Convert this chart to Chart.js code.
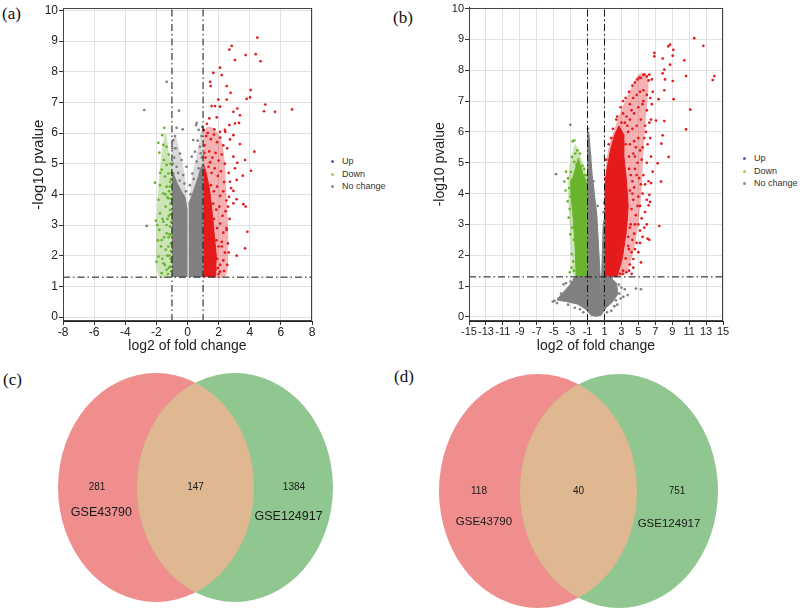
<!DOCTYPE html>
<html>
<head>
<meta charset="utf-8">
<script src="https://cdn.jsdelivr.net/npm/chart.js@4.4.1/dist/chart.umd.min.js"></script>
<style>
    body { margin: 0; background: #fff; width: 800px; height: 611px; position: relative; overflow: hidden; font-family: "Liberation Sans", Arial, sans-serif; }
    canvas { position: absolute; }
    .tag { position: absolute; font-family: "Liberation Serif", "Times New Roman", serif; font-size: 17px; line-height: 17px; color: #111; }
    .legend { position: absolute; font-size: 9px; color: #333; }
    .legend div { position: relative; height: 12.5px; line-height: 12.5px; padding-left: 11px; }
    .legend i { position: absolute; left: 0; top: 5px; width: 3px; height: 3px; border-radius: 50%; }
</style>
</head>
<body>
<div class="tag" style="left:2px;top:5px">(a)</div>
<div class="tag" style="left:393px;top:9px">(b)</div>
<div class="tag" style="left:3px;top:371px">(c)</div>
<div class="tag" style="left:394px;top:368px">(d)</div>

<canvas id="chartA" width="320" height="360" style="left:0;top:0"></canvas>
<canvas id="chartB" width="330" height="360" style="left:400px;top:0"></canvas>
<canvas id="chartC" width="400" height="246" style="left:0;top:365px"></canvas>
<canvas id="chartD" width="400" height="246" style="left:400px;top:365px"></canvas>

<div class="legend" id="legendA" style="left:331px;top:155px"></div>
<div class="legend" id="legendB" style="left:743px;top:152px"></div>

<script>
// ==================== DỮ LIỆU ====================

const seriesNames = ['Up', 'Down', 'No change'];
const fcCut = [-1, 1];
const pCut = 1.3;

const xTicksA = [-8, -6, -4, -2, 0, 2, 4, 6, 8];
const yTicksA = [0, 1, 2, 3, 4, 5, 6, 7, 8, 9, 10];
const xTicksB = [-15, -13, -11, -9, -7, -5, -3, -1, 1, 3, 5, 7, 9, 11, 13, 15];
const yTicksB = [0, 1, 2, 3, 4, 5, 6, 7, 8, 9, 10];

// (a) vùng điểm dày đặc (viền) - lõi đặc và vùng thưa
const flatCoreA1 = [[-1.0,1.32],[-0.03,1.32],[-0.03,3.5],[-0.15,3.9],[-0.4,4.1],[-0.65,4.35],[-0.85,4.6],[-1.0,4.75]];
const flatCoreA2 = [[0.07,1.32],[1.0,1.32],[1.0,5.0],[0.85,4.85],[0.65,4.5],[0.45,4.2],[0.25,3.9],[0.07,3.7]];
const flatHaloA1 = [[-1.0,4.5],[-1.0,5.6],[-0.8,5.9],[-0.5,5.4],[-0.2,4.7],[-0.03,3.6]];
const flatHaloA2 = [[0.07,3.6],[0.3,4.6],[0.6,5.3],[0.85,6.0],[1.0,6.2],[1.0,4.9]];
const upCoreA = [[1.02,1.32],[1.8,1.32],[1.85,2.0],[1.7,2.8],[1.55,3.6],[1.4,4.2],[1.2,4.7],[1.02,5.0]];
const upHaloA = [[1.02,1.32],[2.4,1.32],[2.6,2.0],[2.6,3.0],[2.5,4.0],[2.4,5.0],[2.2,5.7],[1.8,6.1],[1.3,6.2],[1.02,6.0]];
const downHaloA = [[-1.0,1.32],[-1.85,1.32],[-2.0,2.5],[-1.95,3.6],[-1.8,4.6],[-1.6,5.6],[-1.4,6.0],[-1.2,5.4],[-1.0,4.9]];

// (a) điểm rời
const upA = [
    [4.49,9.11],[2.69,8.72],[2.84,8.84],[3.74,8.54],[4.38,8.57],[4.70,8.34],[3.05,8.38],[2.09,8.13],[1.66,7.96],[1.45,7.67],
    [1.49,7.53],[2.20,7.89],[2.52,7.53],[4.06,7.40],[4.02,7.16],[3.80,7.11],[2.77,7.31],[2.52,7.09],[1.98,7.09],[1.55,6.88],
    [1.77,6.88],[2.09,6.86],[3.20,6.80],[5.00,6.93],[4.92,6.71],[5.62,6.69],[6.72,6.77],[2.95,6.69],[3.37,6.58],[1.88,6.51],
    [1.40,6.48],[2.69,6.26],[3.05,6.31],[3.31,6.33],[1.72,6.12],[2.09,6.04],[2.43,6.04],[2.95,5.93],[2.73,5.79],[3.37,5.64],
    [4.30,5.39],[2.95,5.23],[3.20,5.03],[3.70,5.12],[4.08,4.77],[3.55,4.61],[3.05,4.85],[2.73,4.41],[3.16,4.47],[2.95,4.11],
    [2.67,3.92],[3.16,3.84],[3.59,3.68],[3.74,3.60],[2.95,3.71],[3.85,2.78],[3.70,2.24],[3.16,2.00],[2.52,2.84],[2.20,2.30],
    [2.09,1.48],[1.66,1.37],[1.10,5.60],[1.20,5.90],[1.05,6.10],[1.30,6.00],[1.50,5.80],[1.70,5.95],[1.90,5.70],[2.10,5.85],
    [2.30,5.60],[1.40,5.40],[1.60,5.20],[1.80,5.35],[2.00,5.10],[2.20,5.30],[2.40,5.00],[1.15,5.20],[1.35,4.90],[1.55,4.70],
    [1.75,4.85],[1.95,4.60],[2.15,4.75],[2.35,4.40],[1.50,4.30],[1.70,4.10],[1.90,4.25],[2.10,3.95],[2.30,4.10],[2.50,3.80],
    [1.65,3.70],[1.85,3.50],[2.05,3.60],[2.25,3.30],[2.45,3.45],[1.70,3.20],[1.90,2.90],[2.10,3.05],[2.30,2.75],[2.50,2.90],
    [1.85,2.50],[2.00,2.30],[2.20,2.45],[2.40,2.10],[1.90,1.90],[2.10,1.70],[2.30,1.85],[1.80,1.55],[2.00,1.40],[2.60,2.40],
    [2.70,3.20],[2.60,3.60],[2.80,4.20],[2.65,4.70],[2.55,5.50],[2.40,6.10],[1.25,6.30],[1.08,5.35],[1.45,5.05],[1.95,1.60],
    [2.35,1.50],[2.55,1.70],[2.65,2.10]
];
const downA = [
    [-1.49,6.17],[-1.62,5.93],[-1.87,5.68],[-1.55,5.61],[-1.34,5.55],[-1.81,5.36],[-1.51,5.12],[-1.34,4.96],[-1.66,4.81],[-1.23,4.68],
    [-1.45,4.58],[-2.09,4.38],[-1.77,4.30],[-1.34,4.25],[-1.12,4.41],[-1.55,4.03],[-1.87,3.82],[-1.23,3.87],[-1.40,3.60],[-1.77,3.38],
    [-1.12,3.49],[-2.03,3.14],[-1.55,3.11],[-1.81,2.84],[-1.34,2.73],[-1.12,2.95],[-1.66,2.51],[-1.23,2.30],[-1.87,1.97],[-1.55,1.75],
    [-1.34,1.54],[-1.66,1.43],[-1.12,1.64],[-1.05,1.50],[-1.10,1.90],[-1.08,2.40],[-1.15,2.70],[-1.05,3.10],[-1.20,3.30],[-1.10,3.70],
    [-1.04,4.00],[-1.18,4.10],[-1.06,4.50],[-1.25,1.40],[-1.30,2.00],[-1.22,2.60],[-1.35,3.00],[-1.28,3.90],[-1.40,2.20],[-1.45,1.70],
    [-1.50,2.60],[-1.60,3.20],[-1.70,2.30],[-1.62,1.90],[-1.90,2.50],[-1.04,1.80],[-1.07,2.15],[-1.03,2.65],[-1.09,3.35],[-1.03,3.85],
    [-1.14,4.25],[-1.02,4.70],[-1.16,2.00],[-1.20,1.60],[-1.28,3.20],[-1.42,4.00],[-1.95,3.00],[-2.00,1.80],[-1.75,4.70],[-1.10,5.00],
    [-1.20,5.30]
];
const flatA = [
    [-2.78,6.75],[-1.34,7.67],[-2.62,2.97],[-0.55,6.73],[-0.70,6.17],[-0.31,6.12],[0.59,6.33],[0.55,6.26],[0.72,6.10],[-0.91,5.77],
    [-0.76,5.50],[-0.48,5.33],[-0.38,5.12],[0.37,5.77],[0.80,5.55],[0.48,5.39],[0.27,5.23],[0.85,5.34],[-0.06,4.90],[0.59,5.07],
    [-0.70,4.90],[-0.91,4.68],[-0.28,4.63],[0.31,4.68],[0.72,4.85],[-0.85,5.20],[-0.60,4.70],[-0.20,4.35],[-0.50,4.45],[-0.95,5.00],
    [0.15,4.30],[0.40,4.50],[0.90,5.90],[0.95,6.20],[0.20,4.00],[-0.10,4.10],[-0.80,5.90],[0.65,5.75],[0.92,5.20],[-0.97,5.50]
];

// (b) vùng điểm dày đặc (viền)
const flatCoreB = [[-1.0,6.0],[-1.0,1.32],[-2.4,1.3],[-3.2,1.0],[-4.2,0.7],[-4.6,0.55],[-3.5,0.5],[-2.2,0.42],[-1.2,0.25],[-0.6,0.06],
    [0,0.02],[0.6,0.06],[1.2,0.3],[2.0,0.5],[2.6,0.75],[2.4,1.1],[1.6,1.3],[1.0,1.32],[1.0,3.2],[0.85,3.0],[0.6,0.7],[0.4,1.8],
    [0.1,3.3],[-0.45,4.6],[-0.85,6.0]];
const downCoreB = [[-1.0,1.32],[-2.35,1.32],[-2.45,2.2],[-2.7,3.2],[-2.95,4.0],[-3.0,4.4],[-2.7,4.55],[-2.4,4.85],[-2.1,5.15],
    [-1.8,4.9],[-1.5,4.6],[-1.2,4.45],[-1.0,4.1]];
const downHaloB = [[-1.0,1.32],[-2.6,1.32],[-2.9,2.0],[-3.1,3.0],[-3.3,4.0],[-3.2,4.7],[-2.8,5.3],[-2.5,5.6],[-2.2,5.5],[-1.8,5.2],
    [-1.3,4.8],[-1.0,4.5]];
const upCoreB = [[1.02,1.32],[2.5,1.32],[3.1,1.9],[3.6,2.8],[3.8,3.6],[3.6,4.4],[3.3,5.2],[3.3,5.9],[2.7,6.2],[2.2,5.9],
    [1.7,5.4],[1.3,4.8],[1.02,4.1]];
const upHaloB = [[1.02,1.32],[2.4,1.32],[3.5,1.4],[4.3,2.0],[4.9,2.8],[5.3,3.8],[5.5,4.8],[5.7,5.8],[6.0,6.8],[6.2,7.6],[5.8,7.9],
    [5.0,7.85],[4.4,7.55],[3.6,7.1],[2.8,6.6],[2.2,6.1],[1.6,5.6],[1.2,5.0],[1.02,4.3]];

// (b) điểm rời
const upB = [
    [11.6,9.04],[12.68,8.79],[8.54,8.77],[8.74,8.83],[6.89,8.56],[6.89,8.45],[7.87,8.38],[9.13,8.66],[9.06,8.47],[8.74,8.18],
    [10.43,8.32],[13.98,7.81],[13.78,7.68],[10.63,7.81],[8.07,8.02],[7.87,7.90],[8.15,7.70],[9.06,7.65],[8.07,7.35],[7.40,7.06],
    [9.17,7.06],[11.14,6.72],[10.63,6.08],[8.07,6.35],[7.09,6.37],[7.87,5.89],[7.72,5.62],[8.58,5.19],[7.28,4.98],[6.69,4.71],
    [7.68,4.39],[6.50,4.34],[6.30,3.96],[6.38,3.73],[6.22,3.62],[7.48,2.95],[6.10,2.54],[4.41,1.88],[5.31,1.77],[3.15,1.40],
    [4.21,1.40],[2.5,6.5],[2.9,6.8],[3.2,7.0],[3.5,7.1],[3.9,7.3],[4.3,7.5],[4.6,7.6],[4.9,7.7],[5.3,7.75],
    [5.6,7.85],[6.0,7.8],[6.3,7.86],[5.12,7.76],[5.7,7.86],[6.22,7.67],[4.0,6.9],[4.4,7.1],[4.8,7.2],[5.2,7.3],
    [5.6,7.35],[6.0,7.2],[6.4,7.1],[3.6,6.5],[4.0,6.4],[4.5,6.6],[5.0,6.8],[5.5,6.9],[6.0,6.7],[6.6,6.9],
    [3.8,6.0],[4.3,6.1],[4.8,6.2],[5.3,6.4],[5.8,6.2],[6.3,6.3],[4.0,5.6],[4.5,5.7],[5.0,5.8],[5.5,5.5],
    [6.1,5.6],[3.9,5.2],[4.4,5.3],[4.9,5.0],[5.4,5.1],[6.0,5.0],[4.1,4.6],[4.6,4.8],[5.1,4.5],[5.6,4.6],
    [6.2,4.4],[4.0,4.1],[4.5,4.2],[5.0,3.9],[5.5,4.0],[4.2,3.5],[4.7,3.3],[5.2,3.6],[5.8,3.4],[4.0,2.9],
    [4.5,2.7],[5.0,3.0],[5.5,2.6],[3.8,2.3],[4.2,2.1],[4.8,2.4],[3.5,1.9],[4.0,1.7],[3.2,1.5],[3.6,1.45],
    [2.8,1.4],[5.0,2.1],[6.0,3.0],[6.3,2.5],[3.9,2.2],[4.1,3.0],[3.9,4.8],[3.5,5.6],[3.0,6.3],[2.6,6.0],
    [1.5,5.6],[1.2,5.1],[2.0,6.1],[2.4,6.4],[3.2,6.6],[3.7,6.2],[1.1,4.5],[1.8,5.8],[4.3,4.0],[4.6,5.2],
    [5.6,7.0],[5.9,6.0],[6.4,5.8],[6.5,5.2],[5.8,4.3],[6.0,3.8],[5.4,3.2],[5.7,2.9],[4.6,2.2],[5.2,2.4],
    [4.4,1.6],[3.9,1.5],[6.5,6.4],[6.7,7.3],[6.6,7.7],[4.2,6.7],[3.4,6.3],[2.9,5.9],[4.7,5.5],[5.2,5.4],
    [5.7,5.8],[4.3,4.4],[4.8,4.6],[5.3,4.3],[4.4,3.8],[4.9,3.6],[4.6,3.0],[5.2,2.8],[3.8,2.6],[4.3,2.5]
];
const downB = [
    [-3.74,4.39],[-3.54,4.71],[-2.83,5.19],[-2.56,5.03],[-2.76,5.69],[-2.56,5.73],[-3.15,4.18],[-3.35,3.75],[-3.23,3.22],[-3.03,2.68],
    [-2.87,2.04],[-2.90,1.60],[-3.10,1.45],[-2.20,5.40],[-1.90,5.30],[-1.60,4.90],[-1.30,4.60],[-3.30,4.50],[-2.95,4.70],[-3.10,3.50],
    [-2.60,1.50],[-2.70,1.80],[-2.60,2.50],[-2.80,2.90],[-3.00,3.90],[-2.45,5.30],[-2.30,4.95],[-1.15,4.60],[-1.40,4.80],[-3.60,4.10]
];
const flatB = [
    [-4.72,4.63],[-3.03,6.23],[4.72,0.92],[5.31,0.90],[2.76,0.76],[3.23,0.65],[3.74,0.71],[2.36,0.54],[2.17,0.35],[1.57,0.65],
    [-3.94,0.65],[-4.41,0.60],[-4.13,0.76],[-3.54,1.10],[-3.82,1.06],[-1.89,0.25],[-2.60,1.22],[-3.00,1.15],[2.70,1.05],[3.00,0.95],
    [1.80,0.20],[-1.50,0.15],[-4.90,0.52],[-5.10,0.50],[-4.60,0.45],[-3.30,0.40],[-2.50,0.30],[2.90,0.60],[3.40,0.90],[1.30,0.15],
    [2.50,0.40],[-0.95,6.10],[-0.90,5.70],[-0.70,5.20],[-0.30,4.40],[0.20,3.60],[0.90,3.40],[0.95,3.70],[-2.10,1.28],[1.90,1.28]
];

// Venn
const vennSets = ['GSE43790', 'GSE124917'];
const vennCountsC = [281, 147, 1384];
const vennCountsD = [118, 40, 751];

// ==================== MÀU & FONT ====================
const FONT = '"Liberation Sans", Arial, sans-serif';
const COL = { up: '#e41a1c', down: '#6ab42d', flat: '#808080' };
const HALO = { up: 'rgba(228,26,28,0.34)', down: 'rgba(106,180,45,0.35)', flat: 'rgba(128,128,128,0.3)' };
const legendDots = ['#5d6297', '#cbb94a', '#8c8c8c'];
const vennColors = ['#f08e8e', '#90c790', '#dfb892'];

const pts = arr => arr.map(([x, y]) => ({ x, y }));

// Khung viền quanh vùng vẽ
const boxPlugin = {
    id: 'box',
    afterDraw(chart) {
        const { ctx, chartArea: a } = chart;
        ctx.save();
        ctx.strokeStyle = '#444';
        ctx.lineWidth = 1;
        ctx.strokeRect(Math.round(a.left) + 0.5, Math.round(a.top) + 0.5, Math.round(a.width) - 1, Math.round(a.height) - 1);
        ctx.restore();
    }
};

// ==================== BIỂU ĐỒ VOLCANO ====================
function createVolcano(id, o) {
    const ds = [];
    o.halos.forEach(c => ds.push({
        type: 'line', data: pts(c.data), fill: 'shape', backgroundColor: c.color, borderWidth: 0,
        pointRadius: 0, tension: 0.35, order: 6
    }));
    o.cores.forEach(c => ds.push({
        type: 'line', data: pts(c.data), fill: 'shape', backgroundColor: c.color, borderColor: c.color,
        borderWidth: 1, pointRadius: 0, tension: 0, order: 5
    }));
    o.series.forEach(s => ds.push({
        type: 'scatter', data: pts(s.data), backgroundColor: s.color, borderWidth: 0, pointRadius: o.r, order: 3
    }));
    const dash = { type: 'line', borderColor: '#111', borderWidth: 1, borderDash: [7, 3, 1.5, 3], pointRadius: 0, fill: false, order: 0 };
    fcCut.forEach(c => ds.push({ ...dash, data: [{ x: c, y: o.yMin }, { x: c, y: o.yMax }] }));
    ds.push({ ...dash, data: [{ x: o.xMin, y: pCut }, { x: o.xMax, y: pCut }] });

    new Chart(document.getElementById(id), {
        type: 'scatter',
        data: { datasets: ds },
        options: {
            responsive: false,
            animation: false,
            events: [],
            layout: { padding: o.pad },
            plugins: { legend: { display: false }, tooltip: { enabled: false } },
            scales: {
                x: {
                    type: 'linear', min: o.xMin, max: o.xMax,
                    afterBuildTicks: s => { s.ticks = o.xTicks.map(v => ({ value: v })); },
                    afterFit: s => { s.height = 39; },
                    grid: { color: '#e1e1e1', tickColor: '#333', tickLength: 4 },
                    border: { color: '#222' },
                    ticks: { color: '#222', font: { size: o.xTickSize, family: FONT }, padding: 0, maxRotation: 0, autoSkip: false },
                    title: { display: true, text: 'log2 of fold change', color: '#222', font: { size: 14, family: FONT }, padding: { top: 0, bottom: 5 } }
                },
                y: {
                    type: 'linear', min: o.yMin, max: o.yMax,
                    afterBuildTicks: s => { s.ticks = o.yTicks.map(v => ({ value: v })); },
                    afterFit: s => { s.width = o.yAxisW; },
                    grid: { color: '#e1e1e1', tickColor: '#333', tickLength: 4 },
                    border: { color: '#222' },
                    ticks: { color: '#222', font: { size: o.yTickSize, family: FONT }, padding: 1 },
                    title: { display: true, text: '-log10 pvalue', color: '#222', font: { size: o.yTitleSize, family: FONT }, padding: { top: 0, bottom: 0 } }
                }
            }
        },
        plugins: [boxPlugin]
    });
}

createVolcano('chartA', {
    xMin: -8, xMax: 8, yMin: -0.13, yMax: 10.07, xTicks: xTicksA, yTicks: yTicksA,
    pad: { left: 29.5, top: 8, right: 8, bottom: 0 }, yAxisW: 33.5,
    xTickSize: 12, yTickSize: 12, yTitleSize: 15, r: 1.35,
    halos: [
        { data: flatHaloA1, color: HALO.flat }, { data: flatHaloA2, color: HALO.flat },
        { data: upHaloA, color: HALO.up }, { data: downHaloA, color: HALO.down }
    ],
    cores: [
        { data: flatCoreA1, color: COL.flat }, { data: flatCoreA2, color: COL.flat }, { data: upCoreA, color: COL.up }
    ],
    series: [{ data: flatA, color: COL.flat }, { data: downA, color: COL.down }, { data: upA, color: COL.up }]
});

createVolcano('chartB', {
    xMin: -15, xMax: 15, yMin: -0.13, yMax: 10.03, xTicks: xTicksB, yTicks: yTicksB,
    pad: { left: 31.6, top: 4, right: 7, bottom: 0 }, yAxisW: 37.4,
    xTickSize: 11, yTickSize: 11, yTitleSize: 14, r: 1.35,
    halos: [{ data: upHaloB, color: HALO.up }, { data: downHaloB, color: HALO.down }],
    cores: [
        { data: flatCoreB, color: COL.flat }, { data: downCoreB, color: COL.down }, { data: upCoreB, color: COL.up }
    ],
    series: [{ data: flatB, color: COL.flat }, { data: downB, color: COL.down }, { data: upB, color: COL.up }]
});

// Chú thích
function buildLegend(id) {
    document.getElementById(id).innerHTML = seriesNames
        .map((n, i) => `<div><i style="background:${legendDots[i]}"></i>${n}</div>`).join('');
}
buildLegend('legendA');
buildLegend('legendB');

// ==================== BIỂU ĐỒ VENN ====================
function createVenn(id, counts, o) {
    const vennPlugin = {
        id: 'venn',
        afterDraw(chart) {
            const { ctx } = chart;
            const xs = chart.scales.x, ys = chart.scales.y;
            const cy = ys.getPixelForValue(0);
            const ry = cy - ys.getPixelForValue(1);
            const shape = o.centers.map(c => {
                const cx = xs.getPixelForValue(c);
                return { cx, rx: xs.getPixelForValue(c + 1) - cx };
            });
            const path = e => { ctx.beginPath(); ctx.ellipse(e.cx, cy, e.rx, ry, 0, 0, Math.PI * 2); };
            ctx.save();
            path(shape[0]); ctx.fillStyle = vennColors[0]; ctx.fill();
            path(shape[1]); ctx.fillStyle = vennColors[1]; ctx.fill();
            path(shape[0]); ctx.clip();
            path(shape[1]); ctx.fillStyle = vennColors[2]; ctx.fill();
            ctx.restore();

            ctx.save();
            ctx.fillStyle = '#1a1a1a';
            ctx.textAlign = 'center';
            ctx.textBaseline = 'middle';
            ctx.font = `10px ${FONT}`;
            counts.forEach((n, i) => ctx.fillText(String(n), xs.getPixelForValue(o.countX[i]), ys.getPixelForValue(0)));
            ctx.font = `${o.labelSize}px ${FONT}`;
            vennSets.forEach((s, i) => ctx.fillText(s, xs.getPixelForValue(o.labelX[i]), ys.getPixelForValue(o.labelY[i])));
            ctx.restore();
        }
    };
    new Chart(document.getElementById(id), {
        type: 'scatter',
        data: { datasets: [] },
        options: {
            responsive: false, animation: false, events: [],
            layout: { padding: 0 },
            plugins: { legend: { display: false }, tooltip: { enabled: false } },
            scales: {
                x: { type: 'linear', display: false, min: o.xMin, max: o.xMax },
                y: { type: 'linear', display: false, min: o.yMin, max: o.yMax }
            }
        },
        plugins: [vennPlugin]
    });
}

createVenn('chartC', vennCountsC, {
    xMin: -1.995, xMax: 2.087, yMin: -1.079, yMax: 1.070, centers: [-0.403, 0.403],
    countX: [-1.005, 0, 1.005], labelX: [-0.96, 0.95], labelY: [-0.223, -0.258], labelSize: 12.5
});
createVenn('chartD', vennCountsD, {
    xMin: -1.803, xMax: 2.237, yMin: -1.026, yMax: 1.077, centers: [-0.409, 0.409],
    countX: [-1.005, 0, 0.995], labelX: [-0.955, 0.914], labelY: [-0.265, -0.282], labelSize: 11.5
});
</script>
</body>
</html>
